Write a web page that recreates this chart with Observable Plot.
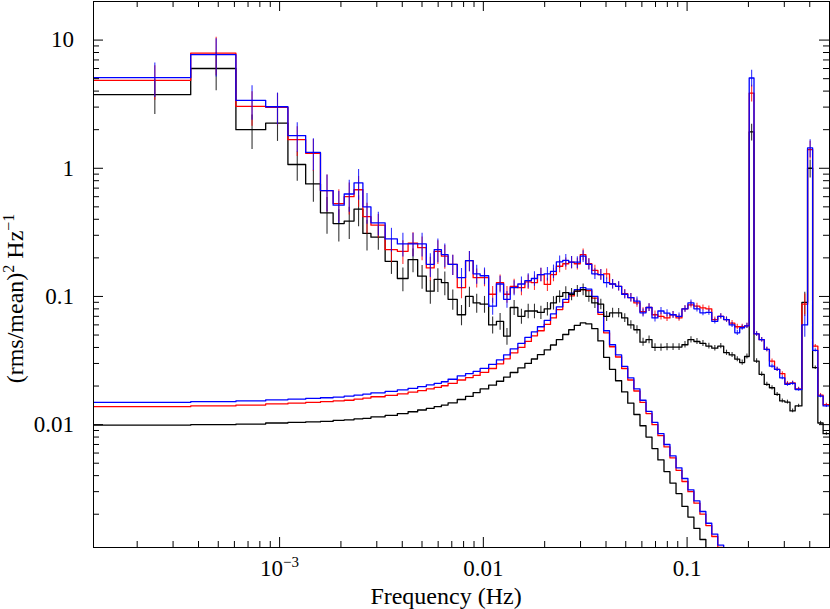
<!DOCTYPE html>
<html><head><meta charset="utf-8">
<script src="https://cdn.jsdelivr.net/npm/d3@7"></script>
<script src="https://cdn.jsdelivr.net/npm/@observablehq/plot@0.6"></script>
<style>html,body{margin:0;padding:0;background:#fff;}</style>
</head><body><div id="chart"></div>
<script>
// Fourier resolution (Hz) and bin edges in units of it
const f0 = 1 / 4096;
const binEdgesIdx = [0.5,1.5,2.5,3.5,4.5,5.5,6.5,7.5,8.5,9.5,
  10.5,11.5,13.5,15.5,17.5,19.5,21.5,23.5,25.5,27.5,
  30.5,33.5,36.5,39.5,43.5,47.5,51.5,55.5,60.5,65.5,
  70.5,75.5,81.5,87.5,93.5,100.5,107.5,114.5,122.5,130.5,
  139.5,149.5,159.5,170.5,182.5,195.5,209.5,224.5,240.5,257.5,
  275.5,294.5,315.5,337.5,361.5,386.5,413.5,442.5,473.5,506.5,
  541.5,579.5,619.5,659.5,702.5,742.5,784.5,826.5,872.5,924.5,
  979.5,1038.5,1100.5,1166.5,1236.5,1310.5,1389.5,1499.5,1598.5,1692.5,
  1795.5,1905.5,2048.5];

// power spectra (rms/mean)^2/Hz per bin
const blueData = [5.1,7.7,3.39,3.02,1.8,1.33,0.67,0.515,0.63,0.77,
  0.50,0.375,0.281,0.257,0.257,0.257,0.178,0.232,0.212,0.178,
  0.14,0.19,0.15,0.145,0.084,0.125,0.095,0.117,0.125,0.133,
  0.138,0.148,0.15,0.157,0.186,0.191,0.185,0.185,0.206,0.178,
  0.15,0.148,0.128,0.125,0.12,0.104,0.098,0.092,0.0745,0.082,
  0.068,0.077,0.074,0.072,0.07,0.08,0.089,0.08,0.0745,0.075,
  0.064,0.07,0.066,0.06,0.052,0.057,0.059,5.06,0.051,0.046,
  0.0386,0.0286,0.027,0.0232,0.0206,0.021,0.0188,0.06,1.44,0.038,
  0.0167,0.014];
const redData = [4.85,7.9,3.04,2.99,1.67,1.31,0.67,0.53,0.60,0.68,
  0.42,0.36,0.232,0.225,0.26,0.24,0.167,0.225,0.206,0.178,
  0.117,0.19,0.14,0.14,0.104,0.128,0.104,0.12,0.117,0.13,
  0.128,0.148,0.124,0.148,0.172,0.18,0.185,0.18,0.212,0.18,
  0.16,0.148,0.15,0.125,0.12,0.105,0.098,0.089,0.076,0.082,
  0.072,0.07,0.068,0.072,0.068,0.08,0.086,0.084,0.0815,0.08,
  0.066,0.07,0.066,0.062,0.058,0.058,0.059,3.86,0.051,0.046,
  0.0386,0.0313,0.027,0.025,0.021,0.0212,0.019,0.087,1.40,0.041,
  0.017,0.0143];
const blackData = [3.75,6.0,2.0,2.25,1.07,0.755,0.449,0.37,0.387,0.48,
  0.31,0.29,0.188,0.138,0.194,0.144,0.11,0.136,0.128,0.095,
  0.072,0.10,0.089,0.087,0.06,0.064,0.049,0.082,0.07,0.077,
  0.077,0.075,0.08,0.089,0.10,0.107,0.104,0.11,0.113,0.10,
  0.089,0.087,0.07,0.0745,0.0745,0.068,0.06,0.055,0.044,0.046,
  0.040,0.040,0.0403,0.0403,0.0403,0.042,0.046,0.0445,0.043,0.041,
  0.0395,0.041,0.0364,0.035,0.0324,0.0305,0.034,1.92,0.0313,0.0247,
  0.0206,0.0194,0.0172,0.0153,0.015,0.0128,0.014,0.09,1.0,0.0278,
  0.0103,0.0085];
// fractional 1-sigma errors per bin
const relErr = [0.30,0.33,0.30,0.28,0.26,0.28,0.32,0.28,0.28,0.27,
  0.27,0.21,0.21,0.21,0.21,0.21,0.21,0.21,0.21,0.18,
  0.18,0.18,0.17,0.15,0.15,0.15,0.15,0.135,0.135,0.13,
  0.13,0.12,0.12,0.12,0.11,0.11,0.11,0.105,0.105,0.10,
  0.095,0.095,0.09,0.087,0.083,0.08,0.077,0.075,0.073,0.07,
  0.069,0.065,0.064,0.061,0.06,0.058,0.056,0.054,0.052,0.051,
  0.049,0.047,0.047,0.046,0.047,0.046,0.046,0.15,0.042,0.04,
  0.039,0.038,0.037,0.036,0.035,0.034,0.03,0.2,0.16,0.03,
  0.03,0.028];
// Lorentzian model components per bin
const blueLor = [0.0149,0.0151,0.0153,0.0156,0.0158,0.0160,0.0162,0.0164,0.0167,0.0170,
  0.0173,0.0177,0.0182,0.0187,0.0192,0.0198,0.0204,0.0210,0.0216,0.0226,
  0.0240,0.0250,0.0260,0.0275,0.0295,0.0320,0.0350,0.0390,0.0430,0.0480,
  0.0530,0.0580,0.0650,0.0730,0.0830,0.0950,0.1060,0.1130,0.1170,0.1140,
  0.1000,0.0750,0.0540,0.0420,0.0350,0.0285,0.0232,0.0190,0.0155,0.0127,
  0.0104,0.0085,0.0070,0.0057,0.0046,0.0038,0.0031,0.00254,0.0021,0.0017,
  0.0014,0.00115,0.00095];
const redLor = [0.0138,0.0140,0.0142,0.0145,0.0147,0.0149,0.0151,0.0153,0.0155,0.0158,
  0.0161,0.0165,0.0169,0.0174,0.0179,0.0184,0.0190,0.0195,0.0201,0.0210,
  0.0223,0.0233,0.0242,0.0256,0.0274,0.0298,0.0326,0.0363,0.0400,0.0446,
  0.0493,0.0540,0.0605,0.0680,0.0790,0.0900,0.1010,0.1100,0.1130,0.1110,
  0.0970,0.0725,0.0520,0.0405,0.0337,0.0274,0.0223,0.0183,0.0149,0.0122,
  0.0100,0.0082,0.0067,0.0055,0.0044,0.0036,0.0030,0.00244,0.0020,0.00163,
  0.00134,0.0011,0.00091];
const blackLor = [0.0099,0.0100,0.0101,0.0103,0.0104,0.0105,0.0106,0.0108,0.0109,0.0111,
  0.0112,0.0115,0.0118,0.0122,0.0126,0.0130,0.0134,0.0138,0.0142,0.0148,
  0.0157,0.0166,0.0178,0.0190,0.0203,0.0218,0.0235,0.0255,0.0277,0.0300,
  0.0325,0.0352,0.0383,0.0418,0.0460,0.0505,0.0550,0.0595,0.0622,0.0610,
  0.0560,0.0450,0.0335,0.0270,0.0220,0.0180,0.0147,0.0120,0.0098,0.0080,
  0.0065,0.0053,0.0043,0.0035,0.0029,0.0023,0.0019,0.00155,0.00127,0.00104,
  0.00085];

const xMajorTicks = [0.001, 0.01, 0.1];
const xTickLabels = ["10^-3", "0.01", "0.1"];
const yMajorTicks = [0.01, 0.1, 1, 10];
const yTickLabels = ["0.01", "0.1", "1", "10"];
const xTitle = "Frequency (Hz)";
const yTitle = "(rms/mean)^2 Hz^-1";

const xDomain = [binEdgesIdx[0] * f0, 0.5];
const yDomain = [0.0011, 20];

// ---- derived structures ----
const edges = binEdgesIdx.map(i => i * f0);
function stepPoints(vals) {
  const pts = [];
  vals.forEach((v, i) => { pts.push({f: edges[i], v}, {f: edges[i + 1], v}); });
  return pts;
}
function errBars(vals) {
  return vals.map((v, i) => ({f: (edges[i] + edges[i + 1]) / 2, lo: v * (1 - relErr[i]), hi: v * (1 + relErr[i])}));
}
function minorTicks(lo, hi) {
  const out = [];
  for (let d = Math.floor(Math.log10(lo)); d <= Math.ceil(Math.log10(hi)); d++)
    for (let m = 2; m <= 9; m++) { const t = m * Math.pow(10, d); if (t > lo && t < hi) out.push(t); }
  return out;
}
const xMinor = minorTicks(xDomain[0], xDomain[1]);
const yMinor = minorTicks(yDomain[0], yDomain[1]);
const xLab = new Map(xMajorTicks.map((t, i) => [t, xTickLabels[i]]));
const yLab = new Map(yMajorTicks.map((t, i) => [t, yTickLabels[i]]));

const W = 830, H = 609, mL = 93, mR = 1, mT = 1, mB = 62;
const innerW = W - mL - mR, innerH = H - mT - mB;
const majLen = 10, minLen = 6;
const series = [
  {data: blackData, lor: blackLor, color: "#000000"},
  {data: redData, lor: redLor, color: "#ff0000"},
  {data: blueData, lor: blueLor, color: "#0000ff"}
];
const lineW = 1.3;

const marks = [];
for (const s of series)
  marks.push(Plot.line(stepPoints(s.lor), {x: "f", y: "v", stroke: s.color, strokeWidth: lineW, clip: true}));
for (const s of series) {
  marks.push(Plot.line(stepPoints(s.data), {x: "f", y: "v", stroke: s.color, strokeWidth: lineW, clip: true}));
  marks.push(Plot.ruleX(errBars(s.data), {x: "f", y1: "lo", y2: "hi", stroke: s.color, strokeWidth: 1.1, strokeOpacity: 0.8, clip: true}));
}
// inward ticks on all four sides
marks.push(
  Plot.tickX(xMinor, {x: d => d, insetTop: innerH - minLen, stroke: "#000"}),
  Plot.tickX(xMinor, {x: d => d, insetBottom: innerH - minLen, stroke: "#000"}),
  Plot.tickX(xMajorTicks, {x: d => d, insetTop: innerH - majLen, stroke: "#000"}),
  Plot.tickX(xMajorTicks, {x: d => d, insetBottom: innerH - majLen, stroke: "#000"}),
  Plot.tickY(yMinor, {y: d => d, insetRight: innerW - minLen, stroke: "#000"}),
  Plot.tickY(yMinor, {y: d => d, insetLeft: innerW - minLen, stroke: "#000"}),
  Plot.tickY(yMajorTicks, {y: d => d, insetRight: innerW - majLen, stroke: "#000"}),
  Plot.tickY(yMajorTicks, {y: d => d, insetLeft: innerW - majLen, stroke: "#000"}),
  Plot.frame({stroke: "#000", strokeWidth: 1}),
  Plot.axisX(xMajorTicks, {tickSize: 0, tickPadding: 12, tickFormat: d => xLab.get(d), label: null, fontSize: 23}),
  Plot.axisY(yMajorTicks, {tickSize: 0, tickPadding: 19.5, tickFormat: d => yLab.get(d), label: null, fontSize: 23}),
  Plot.text([xTitle], {frameAnchor: "bottom", textAnchor: "middle", lineAnchor: "middle", dx: -15.5, dy: 48.5, fontSize: 24}),
  Plot.text([yTitle], {frameAnchor: "left", textAnchor: "middle", lineAnchor: "middle", rotate: -90, dx: -78, dy: 24, fontSize: 24})
);

const svg = Plot.plot({
  width: W, height: H,
  marginLeft: mL, marginRight: mR, marginTop: mT, marginBottom: mB,
  x: {type: "log", domain: xDomain},
  y: {type: "log", domain: yDomain},
  style: {fontFamily: "'Liberation Serif','Times New Roman',serif", fontSize: "23px", background: "#fff", color: "#000", overflow: "visible"},
  marks
});

// typeset superscripts (shifts in pixels)
const NS = "http://www.w3.org/2000/svg";
function typeset(t, parts, rise, supSize) {
  t.textContent = "";
  let shift = 0;
  for (const [str, sup] of parts) {
    const ts = document.createElementNS(NS, "tspan");
    ts.textContent = str;
    const target = sup ? -rise : 0;
    if (target !== shift) { ts.setAttribute("dy", String(target - shift)); shift = target; }
    if (sup) ts.setAttribute("font-size", supSize);
    t.appendChild(ts);
  }
}
svg.querySelectorAll("text").forEach(t => {
  const s = t.textContent;
  if (s === "10^-3") typeset(t, [["10", 0], ["\u22123", 1]], 9, "15px");
  else if (s === "(rms/mean)^2 Hz^-1") typeset(t, [["(rms/mean)", 0], ["2", 1], [" Hz", 0], ["\u22121", 1]], 9, "16px");
});
document.getElementById("chart").appendChild(svg);
</script>
</body></html>
